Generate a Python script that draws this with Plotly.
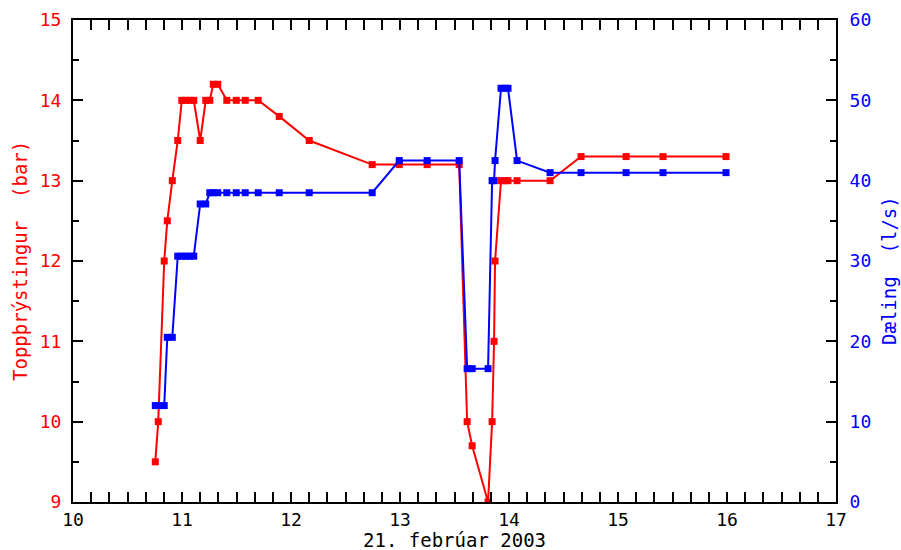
import plotly.graph_objects as go

# Time (day of month, decimal)
time = [10.755, 10.782, 10.837, 10.865, 10.911, 10.961, 10.998, 11.034, 11.071, 11.108,
        11.167, 11.218, 11.255, 11.287, 11.328, 11.411, 11.498, 11.580, 11.699, 11.892,
        12.167, 12.745, 12.993, 13.249, 13.543, 13.616, 13.662, 13.808, 13.845, 13.863,
        13.872, 13.927, 13.963, 13.991, 14.074, 14.377, 14.661, 15.074, 15.413, 15.991]

# Toppþrýstingur (bar)
pressure = [9.5, 10.0, 12.0, 12.5, 13.0, 13.5, 14.0, 14.0, 14.0, 14.0,
            13.5, 14.0, 14.0, 14.2, 14.2, 14.0, 14.0, 14.0, 14.0, 13.8,
            13.5, 13.2, 13.2, 13.2, 13.2, 10.0, 9.7, 9.0, 10.0, 11.0,
            12.0, 13.0, 13.0, 13.0, 13.0, 13.0, 13.3, 13.3, 13.3, 13.3]

# Dæling (l/s)
flow = [12.0, 12.0, 12.0, 20.5, 20.5, 30.6, 30.6, 30.6, 30.6, 30.6,
        37.1, 37.1, 38.5, 38.5, 38.5, 38.5, 38.5, 38.5, 38.5, 38.5,
        38.5, 38.5, 42.5, 42.5, 42.5, 16.6, 16.6, 16.6, 40.0, 40.0,
        42.5, 51.5, 51.5, 51.5, 42.5, 41.0, 41.0, 41.0, 41.0, 41.0]

x_title = "21. febrúar 2003"
y_title = "Toppþrýstingur  (bar)"
y2_title = "Dæling  (l/s)"

RED = "#ff0000"
BLUE = "#0000ff"
FONT = "DejaVu Sans Mono"
TS = 18   # tick font size
TT = 19   # title font size

fig = go.Figure()
fig.add_trace(go.Scatter(x=time, y=pressure, mode="lines+markers",
                         line=dict(color=RED, width=2),
                         marker=dict(symbol="square", size=7, color=RED),
                         yaxis="y", showlegend=False))
fig.add_trace(go.Scatter(x=time, y=flow, mode="lines+markers",
                         line=dict(color=BLUE, width=2),
                         marker=dict(symbol="square", size=7, color=BLUE),
                         yaxis="y2", showlegend=False))

tickstyle = dict(ticks="inside", ticklen=10, tickwidth=2, tickcolor="black")

fig.update_layout(
    width=901, height=550,
    margin=dict(l=73, r=65, t=20, b=48, autoexpand=False),
    paper_bgcolor="white", plot_bgcolor="white",
    font=dict(family=FONT, size=TS, color="black"),
    xaxis=dict(range=[10, 17], dtick=1, tick0=10, showgrid=False, zeroline=False,
               automargin=False,
               showline=True, linecolor="black", linewidth=2, mirror="allticks",
               **tickstyle,
               minor=dict(dtick=1/6, tick0=10, ticks="inside", ticklen=6, tickwidth=2, tickcolor="black"),
               tickfont=dict(family=FONT, size=TS, color="black")),
    yaxis=dict(range=[9, 15], dtick=1, showgrid=False, zeroline=False,
               automargin=False,
               showline=True, linecolor="black", linewidth=2, mirror=False,
               **tickstyle, ticklabelstandoff=6,
               minor=dict(dtick=0.5, ticks="inside", ticklen=6, tickwidth=2, tickcolor="black"),
               tickfont=dict(family=FONT, size=TS, color=RED)),
    yaxis2=dict(range=[0, 60], dtick=10, overlaying="y", side="right",
                showgrid=False, zeroline=False, automargin=False,
                showline=True, linecolor="black", linewidth=2,
                **tickstyle, ticklabelstandoff=8,
                minor=dict(dtick=5, ticks="inside", ticklen=6, tickwidth=2, tickcolor="black"),
                tickfont=dict(family=FONT, size=TS, color=BLUE)),
    annotations=[
        dict(text=x_title, xref="paper", yref="paper", x=0.5, y=0,
             xanchor="center", yanchor="middle", yshift=-38, showarrow=False,
             font=dict(family=FONT, size=TT, color="black")),
        dict(text=y_title, xref="paper", yref="paper", x=0, y=0.5,
             xanchor="center", yanchor="middle", xshift=-53, textangle=-90, showarrow=False,
             font=dict(family=FONT, size=TT, color=RED)),
        dict(text=y2_title, xref="paper", yref="paper", x=1, y=0.5,
             xanchor="center", yanchor="middle", xshift=53, yshift=-10, textangle=-90, showarrow=False,
             font=dict(family=FONT, size=TT, color=BLUE)),
    ],
)

fig.write_html("out.html", config={"displayModeBar": False},
               post_script="document.body.style.margin='0';document.body.style.padding='0';")
